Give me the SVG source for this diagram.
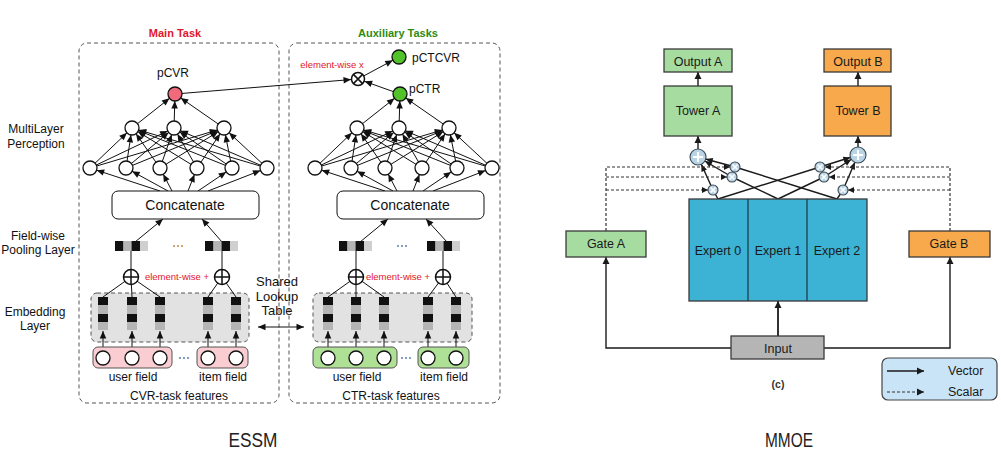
<svg xmlns="http://www.w3.org/2000/svg" width="1001" height="454" viewBox="0 0 1001 454">
<defs>
<style>
text{font-family:"Liberation Sans",Arial,Helvetica,sans-serif;fill:#111}
.c{text-anchor:middle}
.t12{font-size:12px}
.t13{font-size:13px}
.t12m{font-size:12.5px;fill:#1a1a1a}
.red{fill:#e0162b;font-size:9.5px}
.n{fill:#fff;stroke:#111;stroke-width:1.3}
.e{stroke:#111;stroke-width:1;fill:none}
.panel{fill:none;stroke:#555;stroke-width:1;stroke-dasharray:4 3}
.emb{fill:#e2e2e2;stroke:#555;stroke-width:1;stroke-dasharray:4 3}
.blk{fill:#111}
.g1{fill:#b5b5b5}
.g2{fill:#cfcfcf}
.op{fill:#fff;stroke:#111;stroke-width:1.5}
.box{stroke:#3a3a3a;stroke-width:1.3}
.grn{fill:#a6dca0}
.org{fill:#f7a94b}
.m{stroke:#1a1a1a;stroke-width:1.4;fill:none}
.md{stroke:#333;stroke-width:1.2;fill:none;stroke-dasharray:3 2}
.gate{fill:#b9d4e4;stroke:#3c4a55;stroke-width:1.1}
.wx{stroke:#fff;stroke-width:1.6}
.dot{fill:#4a6fa5}
</style>
<marker id="a7" markerUnits="userSpaceOnUse" markerWidth="7.5" markerHeight="6.5" refX="14.5" refY="3.25" orient="auto" overflow="visible"><path d="M0,0L7.5,3.25L0,6.5z" fill="#111"/></marker>
<marker id="a0" markerUnits="userSpaceOnUse" markerWidth="7.5" markerHeight="6.5" refX="7.5" refY="3.25" orient="auto" overflow="visible"><path d="M0,0L7.5,3.25L0,6.5z" fill="#111"/></marker>
<marker id="a0s" markerUnits="userSpaceOnUse" markerWidth="7.5" markerHeight="6.5" refX="0" refY="3.25" orient="auto" overflow="visible"><path d="M7.5,0L0,3.25L7.5,6.5z" fill="#111"/></marker>
<marker id="m0" markerUnits="userSpaceOnUse" markerWidth="7" markerHeight="7" refX="7" refY="3.5" orient="auto" overflow="visible"><path d="M0,0L7,3.5L0,7z" fill="#1a1a1a"/></marker>
<marker id="m5" markerUnits="userSpaceOnUse" markerWidth="6" markerHeight="6" refX="11" refY="3" orient="auto" overflow="visible"><path d="M0,0L6,3L0,6z" fill="#1a1a1a"/></marker>
<marker id="m8" markerUnits="userSpaceOnUse" markerWidth="7" markerHeight="6" refX="15" refY="3" orient="auto" overflow="visible"><path d="M0,0L7,3L0,6z" fill="#1a1a1a"/></marker>
<g id="col">
<rect x="-5" y="0" width="10" height="8" class="blk"/>
<rect x="-5" y="8" width="10" height="9" class="g1"/>
<rect x="-5" y="17" width="10" height="8" class="blk"/>
<rect x="-5" y="25" width="10" height="8" class="g1"/>
</g>
<g id="pool">
<rect x="0" y="0" width="8.5" height="10" class="blk"/>
<rect x="8.5" y="0" width="8" height="10" class="g1"/>
<rect x="16.5" y="0" width="8.5" height="10" class="blk"/>
<rect x="25" y="0" width="8" height="10" class="g2"/>
</g>
</defs>
<rect width="1001" height="454" fill="#fff"/>

<!-- ================= ESSM ================= -->
<g id="essm-labels">
<text x="36" y="133" class="c t12">MultiLayer</text>
<text x="36" y="148" class="c t12">Perception</text>
<text x="38" y="240" class="c t12">Field-wise</text>
<text x="38" y="254" class="c t12">Pooling Layer</text>
<text x="35" y="316" class="c t12">Embedding</text>
<text x="35" y="330" class="c t12">Layer</text>
<text x="175" y="37" class="c" style="font-size:11px;font-weight:bold;fill:#e0162b">Main Task</text>
<text x="398" y="37" class="c" style="font-size:11px;font-weight:bold;fill:#2e8b12">Auxiliary Tasks</text>
<text x="253" y="447" class="c" style="font-size:20px;fill:#222" textLength="49" lengthAdjust="spacingAndGlyphs">ESSM</text>
</g>

<g id="panel-cvr"><rect x="79" y="43" width="200" height="360" rx="8" class="panel"/></g>
<g id="panel-ctr"><rect x="289" y="43" width="211" height="360" rx="8" class="panel"/></g>

<g id="emb-cvr"><rect x="91" y="293" width="158" height="49" rx="6" class="emb"/></g>
<g id="emb-ctr"><rect x="313" y="293" width="159" height="49" rx="6" class="emb"/></g>

<g id="essm-connectors">
<!-- CVR MLP -->
<line x1="90" y1="168" x2="132" y2="128" class="e" marker-end="url(#a7)"/>
<line x1="126" y1="168" x2="132" y2="128" class="e" marker-end="url(#a7)"/>
<line x1="160" y1="168" x2="132" y2="128" class="e" marker-end="url(#a7)"/>
<line x1="197" y1="168" x2="132" y2="128" class="e" marker-end="url(#a7)"/>
<line x1="232" y1="168" x2="132" y2="128" class="e" marker-end="url(#a7)"/>
<line x1="267" y1="168" x2="132" y2="128" class="e" marker-end="url(#a7)"/>
<line x1="90" y1="168" x2="174" y2="128" class="e" marker-end="url(#a7)"/>
<line x1="126" y1="168" x2="174" y2="128" class="e" marker-end="url(#a7)"/>
<line x1="160" y1="168" x2="174" y2="128" class="e" marker-end="url(#a7)"/>
<line x1="197" y1="168" x2="174" y2="128" class="e" marker-end="url(#a7)"/>
<line x1="232" y1="168" x2="174" y2="128" class="e" marker-end="url(#a7)"/>
<line x1="267" y1="168" x2="174" y2="128" class="e" marker-end="url(#a7)"/>
<line x1="90" y1="168" x2="224" y2="128" class="e" marker-end="url(#a7)"/>
<line x1="126" y1="168" x2="224" y2="128" class="e" marker-end="url(#a7)"/>
<line x1="160" y1="168" x2="224" y2="128" class="e" marker-end="url(#a7)"/>
<line x1="197" y1="168" x2="224" y2="128" class="e" marker-end="url(#a7)"/>
<line x1="232" y1="168" x2="224" y2="128" class="e" marker-end="url(#a7)"/>
<line x1="267" y1="168" x2="224" y2="128" class="e" marker-end="url(#a7)"/>
<line x1="132" y1="128" x2="175" y2="94" class="e" marker-end="url(#a7)"/>
<line x1="174" y1="128" x2="175" y2="94" class="e" marker-end="url(#a7)"/>
<line x1="224" y1="128" x2="175" y2="94" class="e" marker-end="url(#a7)"/>
<line x1="160" y1="191" x2="90" y2="168" class="e" marker-end="url(#a7)"/>
<line x1="168" y1="191" x2="126" y2="168" class="e" marker-end="url(#a7)"/>
<line x1="172" y1="191" x2="160" y2="168" class="e" marker-end="url(#a7)"/>
<line x1="188" y1="191" x2="197" y2="168" class="e" marker-end="url(#a7)"/>
<line x1="198" y1="191" x2="232" y2="168" class="e" marker-end="url(#a7)"/>
<line x1="208" y1="191" x2="267" y2="168" class="e" marker-end="url(#a7)"/>
<line x1="135" y1="242" x2="163" y2="219" class="e" marker-end="url(#a0)"/>
<line x1="222" y1="242" x2="202" y2="219" class="e" marker-end="url(#a0)"/>
<line x1="131" y1="270" x2="131" y2="251" class="e"/>
<line x1="222" y1="270" x2="222" y2="251" class="e"/>
<line x1="103" y1="297" x2="131" y2="277" class="e"/>
<line x1="132" y1="297" x2="131" y2="277" class="e"/>
<line x1="160" y1="297" x2="131" y2="277" class="e"/>
<line x1="208" y1="297" x2="222" y2="277" class="e"/>
<line x1="236" y1="297" x2="222" y2="277" class="e"/>
<line x1="103" y1="358" x2="103" y2="331" class="e" marker-end="url(#a0)"/>
<line x1="132" y1="358" x2="132" y2="331" class="e" marker-end="url(#a0)"/>
<line x1="160" y1="358" x2="160" y2="331" class="e" marker-end="url(#a0)"/>
<line x1="208" y1="358" x2="208" y2="331" class="e" marker-end="url(#a0)"/>
<line x1="236" y1="358" x2="236" y2="331" class="e" marker-end="url(#a0)"/>
<!-- CTR MLP -->
<line x1="315" y1="168" x2="357" y2="128" class="e" marker-end="url(#a7)"/>
<line x1="351" y1="168" x2="357" y2="128" class="e" marker-end="url(#a7)"/>
<line x1="385" y1="168" x2="357" y2="128" class="e" marker-end="url(#a7)"/>
<line x1="422" y1="168" x2="357" y2="128" class="e" marker-end="url(#a7)"/>
<line x1="457" y1="168" x2="357" y2="128" class="e" marker-end="url(#a7)"/>
<line x1="492" y1="168" x2="357" y2="128" class="e" marker-end="url(#a7)"/>
<line x1="315" y1="168" x2="399" y2="128" class="e" marker-end="url(#a7)"/>
<line x1="351" y1="168" x2="399" y2="128" class="e" marker-end="url(#a7)"/>
<line x1="385" y1="168" x2="399" y2="128" class="e" marker-end="url(#a7)"/>
<line x1="422" y1="168" x2="399" y2="128" class="e" marker-end="url(#a7)"/>
<line x1="457" y1="168" x2="399" y2="128" class="e" marker-end="url(#a7)"/>
<line x1="492" y1="168" x2="399" y2="128" class="e" marker-end="url(#a7)"/>
<line x1="315" y1="168" x2="449" y2="128" class="e" marker-end="url(#a7)"/>
<line x1="351" y1="168" x2="449" y2="128" class="e" marker-end="url(#a7)"/>
<line x1="385" y1="168" x2="449" y2="128" class="e" marker-end="url(#a7)"/>
<line x1="422" y1="168" x2="449" y2="128" class="e" marker-end="url(#a7)"/>
<line x1="457" y1="168" x2="449" y2="128" class="e" marker-end="url(#a7)"/>
<line x1="492" y1="168" x2="449" y2="128" class="e" marker-end="url(#a7)"/>
<line x1="357" y1="128" x2="400" y2="94" class="e" marker-end="url(#a7)"/>
<line x1="399" y1="128" x2="400" y2="94" class="e" marker-end="url(#a7)"/>
<line x1="449" y1="128" x2="400" y2="94" class="e" marker-end="url(#a7)"/>
<line x1="385" y1="191" x2="315" y2="168" class="e" marker-end="url(#a7)"/>
<line x1="393" y1="191" x2="351" y2="168" class="e" marker-end="url(#a7)"/>
<line x1="397" y1="191" x2="385" y2="168" class="e" marker-end="url(#a7)"/>
<line x1="413" y1="191" x2="422" y2="168" class="e" marker-end="url(#a7)"/>
<line x1="423" y1="191" x2="457" y2="168" class="e" marker-end="url(#a7)"/>
<line x1="433" y1="191" x2="492" y2="168" class="e" marker-end="url(#a7)"/>
<line x1="360" y1="242" x2="388" y2="219" class="e" marker-end="url(#a0)"/>
<line x1="447" y1="242" x2="426" y2="219" class="e" marker-end="url(#a0)"/>
<line x1="356" y1="270" x2="356" y2="251" class="e"/>
<line x1="443" y1="270" x2="443" y2="251" class="e"/>
<line x1="328" y1="297" x2="356" y2="277" class="e"/>
<line x1="356" y1="297" x2="356" y2="277" class="e"/>
<line x1="384" y1="297" x2="356" y2="277" class="e"/>
<line x1="428" y1="297" x2="443" y2="277" class="e"/>
<line x1="456" y1="297" x2="443" y2="277" class="e"/>
<line x1="328" y1="358" x2="328" y2="331" class="e" marker-end="url(#a0)"/>
<line x1="356" y1="358" x2="356" y2="331" class="e" marker-end="url(#a0)"/>
<line x1="384" y1="358" x2="384" y2="331" class="e" marker-end="url(#a0)"/>
<line x1="428" y1="358" x2="428" y2="331" class="e" marker-end="url(#a0)"/>
<line x1="456" y1="358" x2="456" y2="331" class="e" marker-end="url(#a0)"/>
<!-- cross task -->
<line x1="175" y1="94" x2="358" y2="79" class="e" marker-end="url(#a7)"/>
<line x1="400" y1="94" x2="358" y2="79" class="e" marker-end="url(#a7)"/>
<line x1="358" y1="79" x2="399" y2="57" class="e" marker-end="url(#a7)"/>
<!-- shared lookup -->
<line x1="258" y1="327" x2="304" y2="327" class="e" marker-start="url(#a0s)" marker-end="url(#a0)"/>
</g>

<g id="cvr-mlp-nodes">
<circle cx="90" cy="168" r="7" class="n"/><circle cx="126" cy="168" r="7" class="n"/><circle cx="160" cy="168" r="7" class="n"/>
<circle cx="197" cy="168" r="7" class="n"/><circle cx="232" cy="168" r="7" class="n"/><circle cx="267" cy="168" r="7" class="n"/>
<circle cx="132" cy="128" r="7" class="n"/><circle cx="174" cy="128" r="7" class="n"/><circle cx="224" cy="128" r="7" class="n"/>
</g>
<g id="pCVR"><circle cx="175" cy="94" r="7" class="n" style="fill:#f06a7c"/><text x="173" y="77" class="c t12">pCVR</text></g>
<g id="concat-cvr"><rect x="112" y="191" width="147" height="28" rx="6" class="n" style="stroke-width:1"/><text x="185" y="210" class="c" style="font-size:14px">Concatenate</text></g>
<g id="pool-cvr">
<use href="#pool" x="115" y="241"/><use href="#pool" x="205" y="241"/>
<circle cx="174" cy="246" r="0.9" fill="#c87a30"/><circle cx="178" cy="246" r="0.9" fill="#c87a30"/><circle cx="182" cy="246" r="0.9" fill="#c87a30"/>
</g>
<g id="sum-cvr">
<circle cx="131" cy="277" r="7.5" class="op"/><path d="M123.5,277H138.5M131,269.5V284.5" class="op"/>
<circle cx="222" cy="277" r="7.5" class="op"/><path d="M214.5,277H229.5M222,269.5V284.5" class="op"/>
<text x="177" y="280" class="c red">element-wise +</text>
</g>
<g id="emb-cols-cvr">
<use href="#col" x="103" y="297"/><use href="#col" x="132" y="297"/><use href="#col" x="160" y="297"/>
<use href="#col" x="208" y="297"/><use href="#col" x="236" y="297"/>
</g>
<g id="user-field-cvr">
<rect x="93" y="347" width="79" height="21" rx="5" fill="#f9cdd1" stroke="#555" stroke-width="1"/>
<circle cx="103" cy="358" r="7" class="n"/><circle cx="132" cy="358" r="7" class="n"/><circle cx="160" cy="358" r="7" class="n"/>
<text x="133" y="381" class="c t12">user field</text>
</g>
<g id="item-field-cvr">
<rect x="197" y="347" width="51" height="21" rx="5" fill="#f9cdd1" stroke="#555" stroke-width="1"/>
<circle cx="208" cy="358" r="7" class="n"/><circle cx="236" cy="358" r="7" class="n"/>
<text x="223" y="381" class="c t12">item field</text>
</g>
<g id="dots-cvr"><circle cx="180" cy="358" r="0.9" class="dot"/><circle cx="184" cy="358" r="0.9" class="dot"/><circle cx="188" cy="358" r="0.9" class="dot"/></g>
<text x="179" y="400" class="c t12">CVR-task features</text>

<g id="ctr-mlp-nodes">
<circle cx="315" cy="168" r="7" class="n"/><circle cx="351" cy="168" r="7" class="n"/><circle cx="385" cy="168" r="7" class="n"/>
<circle cx="422" cy="168" r="7" class="n"/><circle cx="457" cy="168" r="7" class="n"/><circle cx="492" cy="168" r="7" class="n"/>
<circle cx="357" cy="128" r="7" class="n"/><circle cx="399" cy="128" r="7" class="n"/><circle cx="449" cy="128" r="7" class="n"/>
</g>
<g id="pCTR"><circle cx="400" cy="94" r="7" class="n" style="fill:#52c22a"/><text x="409" y="93" class="t12">pCTR</text></g>
<g id="pCTCVR"><circle cx="399" cy="57" r="7" class="n" style="fill:#52c22a"/><text x="412" y="62" class="t12">pCTCVR</text></g>
<g id="mul">
<circle cx="358" cy="79" r="6.5" class="op"/><path d="M353.4,74.4L362.6,83.6M362.6,74.4L353.4,83.6" class="op"/>
<text x="332" y="68" class="c red">element-wise x</text>
</g>
<g id="concat-ctr"><rect x="337" y="191" width="147" height="28" rx="6" class="n" style="stroke-width:1"/><text x="410" y="210" class="c" style="font-size:14px">Concatenate</text></g>
<g id="pool-ctr">
<use href="#pool" x="339" y="241"/><use href="#pool" x="427" y="241"/>
<circle cx="398" cy="246" r="0.9" class="dot"/><circle cx="402" cy="246" r="0.9" class="dot"/><circle cx="406" cy="246" r="0.9" class="dot"/>
</g>
<g id="sum-ctr">
<circle cx="356" cy="277" r="7.5" class="op"/><path d="M348.5,277H363.5M356,269.5V284.5" class="op"/>
<circle cx="443" cy="277" r="7.5" class="op"/><path d="M435.5,277H450.5M443,269.5V284.5" class="op"/>
<text x="398" y="280" class="c red">element-wise +</text>
</g>
<g id="emb-cols-ctr">
<use href="#col" x="328" y="297"/><use href="#col" x="356" y="297"/><use href="#col" x="384" y="297"/>
<use href="#col" x="428" y="297"/><use href="#col" x="456" y="297"/>
</g>
<g id="user-field-ctr">
<rect x="313" y="347" width="84" height="21" rx="5" fill="#aee096" stroke="#555" stroke-width="1"/>
<circle cx="328" cy="358" r="7" class="n"/><circle cx="356" cy="358" r="7" class="n"/><circle cx="384" cy="358" r="7" class="n"/>
<text x="357" y="381" class="c t12">user field</text>
</g>
<g id="item-field-ctr">
<rect x="418" y="347" width="51" height="21" rx="5" fill="#aee096" stroke="#555" stroke-width="1"/>
<circle cx="428" cy="358" r="7" class="n"/><circle cx="456" cy="358" r="7" class="n"/>
<text x="444" y="381" class="c t12">item field</text>
</g>
<g id="dots-ctr"><circle cx="402" cy="358" r="0.9" class="dot"/><circle cx="406" cy="358" r="0.9" class="dot"/><circle cx="410" cy="358" r="0.9" class="dot"/></g>
<text x="391" y="400" class="c t12">CTR-task features</text>

<g id="shared-lookup">
<text x="277" y="286" class="c t13">Shared</text>
<text x="277" y="301" class="c t13">Lookup</text>
<text x="277" y="315" class="c t13">Table</text>
</g>

<!-- ================= MMOE ================= -->
<g id="mmoe-connectors">
<line x1="698" y1="86" x2="698" y2="72" class="m" marker-end="url(#m0)"/>
<line x1="858" y1="86" x2="858" y2="72" class="m" marker-end="url(#m0)"/>
<line x1="698" y1="149" x2="698" y2="136" class="m" marker-end="url(#m0)"/>
<line x1="858" y1="147" x2="858" y2="136" class="m" marker-end="url(#m0)"/>
<line x1="778" y1="336" x2="778" y2="301" class="m" style="stroke-width:1.8" marker-end="url(#m0)"/>
<path d="M731,348H606V257" class="m" marker-end="url(#m0)"/>
<path d="M824,348H950V257" class="m" marker-end="url(#m0)"/>
<line x1="718" y1="199" x2="713" y2="190" class="m"/>
<line x1="718" y1="199" x2="820" y2="167" class="m"/>
<line x1="778" y1="199" x2="732" y2="177" class="m"/>
<line x1="778" y1="199" x2="824" y2="177" class="m"/>
<line x1="837" y1="199" x2="735" y2="167" class="m"/>
<line x1="837" y1="199" x2="843" y2="190" class="m"/>
<line x1="713" y1="190" x2="698" y2="157" class="m" marker-end="url(#m8)"/>
<line x1="732" y1="177" x2="698" y2="157" class="m" marker-end="url(#m8)"/>
<line x1="735" y1="167" x2="698" y2="157" class="m" marker-end="url(#m8)"/>
<line x1="820" y1="167" x2="858" y2="155" class="m" marker-end="url(#m8)"/>
<line x1="824" y1="177" x2="858" y2="155" class="m" marker-end="url(#m8)"/>
<line x1="843" y1="190" x2="858" y2="155" class="m" marker-end="url(#m8)"/>
<path d="M606,231V167H735" class="md" marker-end="url(#m5)"/>
<path d="M606,177H732" class="md" marker-end="url(#m5)"/>
<path d="M606,190H713" class="md" marker-end="url(#m5)"/>
<path d="M950,231V167H820" class="md" marker-end="url(#m5)"/>
<path d="M950,177H824" class="md" marker-end="url(#m5)"/>
<path d="M950,190H843" class="md" marker-end="url(#m5)"/>
</g>

<g id="output-a"><rect x="664" y="49" width="68" height="23" class="box grn"/><text x="698" y="66" class="c t12m">Output A</text></g>
<g id="tower-a"><rect x="664" y="86" width="68" height="50" class="box grn"/><text x="698" y="115" class="c t12m">Tower A</text></g>
<g id="output-b"><rect x="824" y="49" width="67" height="23" class="box org"/><text x="858" y="66" class="c t12m">Output B</text></g>
<g id="tower-b"><rect x="824" y="86" width="67" height="50" class="box org"/><text x="858" y="115" class="c t12m">Tower B</text></g>

<g id="experts">
<rect x="689" y="199" width="178" height="102" fill="#3cb3d4" class="box"/>
<line x1="748" y1="199" x2="748" y2="301" stroke="#1e3d4a" stroke-width="1.3"/>
<line x1="807" y1="199" x2="807" y2="301" stroke="#1e3d4a" stroke-width="1.3"/>
<text x="718" y="255" class="c t12m">Expert 0</text>
<text x="778" y="255" class="c t12m">Expert 1</text>
<text x="837" y="255" class="c t12m">Expert 2</text>
</g>
<g id="gate-a"><rect x="566" y="231" width="80" height="26" class="box grn"/><text x="606" y="248" class="c t12m">Gate A</text></g>
<g id="gate-b"><rect x="909" y="231" width="81" height="26" class="box org"/><text x="949" y="248" class="c t12m">Gate B</text></g>
<g id="input"><rect x="731" y="336" width="93" height="23" fill="#b5b5b5" class="box"/><text x="778" y="353" class="c t12m">Input</text></g>

<g id="mix-a">
<circle cx="713" cy="190" r="5" class="gate"/><path d="M710.5,187.5L715.5,192.5M715.5,187.5L710.5,192.5" class="wx"/>
<circle cx="732" cy="177" r="5" class="gate"/><path d="M729.5,174.5L734.5,179.5M734.5,174.5L729.5,179.5" class="wx"/>
<circle cx="735" cy="167" r="5" class="gate"/><path d="M732.5,164.5L737.5,169.5M737.5,164.5L732.5,169.5" class="wx"/>
<circle cx="698" cy="157" r="8" class="gate"/><path d="M693,157H703M698,152V162" class="wx" style="stroke-width:2"/>
</g>
<g id="mix-b">
<circle cx="843" cy="190" r="5" class="gate"/><path d="M840.5,187.5L845.5,192.5M845.5,187.5L840.5,192.5" class="wx"/>
<circle cx="824" cy="177" r="5" class="gate"/><path d="M821.5,174.5L826.5,179.5M826.5,174.5L821.5,179.5" class="wx"/>
<circle cx="820" cy="167" r="5" class="gate"/><path d="M817.5,164.5L822.5,169.5M822.5,164.5L817.5,169.5" class="wx"/>
<circle cx="858" cy="155" r="8" class="gate"/><path d="M853,155H863M858,150V160" class="wx" style="stroke-width:2"/>
</g>

<text x="778" y="388" class="c" style="font-size:10.5px;font-weight:bold;fill:#333">(c)</text>

<g id="legend">
<rect x="882" y="358" width="115" height="42" rx="6" fill="#c9e4f6" stroke="#444" stroke-width="1.2"/>
<line x1="887" y1="371" x2="924" y2="371" class="m" marker-end="url(#m0)"/>
<line x1="887" y1="392" x2="924" y2="392" class="md" marker-end="url(#m0)"/>
<text x="948" y="375" class="t12m">Vector</text>
<text x="948" y="396" class="t12m">Scalar</text>
</g>

<text x="789" y="447" class="c" style="font-size:20px;fill:#222" textLength="48" lengthAdjust="spacingAndGlyphs">MMOE</text>
</svg>
